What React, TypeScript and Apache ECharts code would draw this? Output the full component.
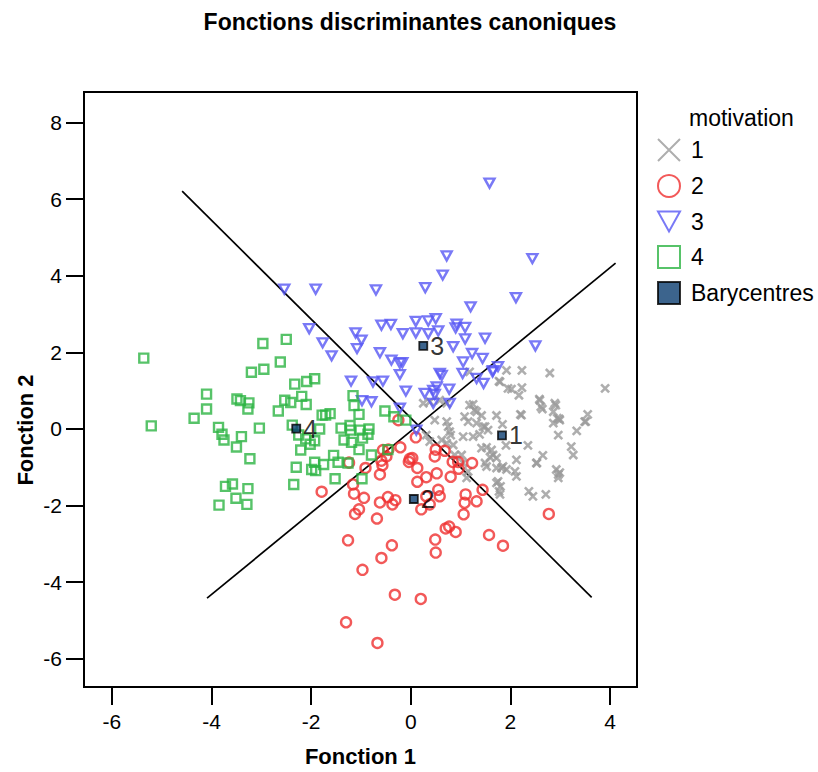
import React, { useEffect, useRef } from "react";
import * as echarts from "echarts";

const xTicks = [-6, -4, -2, 0, 2, 4];
const yTicks = [-6, -4, -2, 0, 2, 4, 6, 8];

const group1: number[][] = [
  [1.92, 1.53], [2.23, 1.53], [2.79, 1.46], [3.90, 1.06], [1.77, 1.25], [1.95, 1.06], [2.02, 1.04],
  [2.17, 0.88], [2.23, 1.08], [2.58, 0.78], [2.61, 0.58], [2.64, 0.52], [2.91, 0.62], [2.86, 0.45],
  [2.94, 0.28], [2.86, 0.15], [2.98, 0.26], [3.55, 0.38], [3.51, 0.19], [3.33, -0.05], [2.96, -0.16],
  [2.20, 0.38], [1.25, 0.64], [1.28, 0.49], [1.42, 0.35], [1.72, 0.35], [1.84, 0.12], [1.49, 0.06],
  [1.55, -0.03], [1.38, -0.14], [1.25, -0.20], [1.91, -0.43], [2.35, -0.43], [1.42, -0.50], [1.52, -0.48],
  [1.62, -0.55], [1.65, -0.68], [1.59, -0.74], [1.49, -0.89], [2.12, -0.81], [2.65, -0.69], [2.53, -0.89],
  [3.22, -0.46], [3.26, -0.68], [1.82, -1.02], [1.92, -1.06], [2.09, -1.11], [2.12, -1.24], [2.92, -1.06],
  [2.96, -1.19], [1.75, -1.37], [1.80, -1.50], [1.77, -1.63], [2.37, -1.63], [2.71, -1.71],
  [1.18, 1.49], [1.79, 1.23], [0.25, 0.67], [0.38, 0.71], [0.58, 0.75], [0.72, 0.67], [0.48, 0.23],
  [0.72, 0.19], [0.75, 0.06], [0.78, -0.07], [0.80, -0.16], [0.31, -0.16], [0.38, -0.33], [1.18, 0.62],
  [1.32, 0.45], [1.08, 0.32], [1.15, 0.19], [1.32, 0.15], [1.45, 0.06], [1.05, -0.20], [0.62, -0.29],
  [0.72, -0.37], [0.85, -0.42], [0.88, -0.68], [1.02, -0.68], [1.05, -0.89], [1.72, -0.76], [1.52, -0.98],
  [1.72, -1.02], [1.85, -0.98], [1.15, -1.11], [1.12, -1.28], [1.72, -1.41], [1.79, -1.71], [2.45, -1.76],
  [2.22, 0.36], [2.52, -0.89], [2.99, -1.14], [2.96, -1.28], [2.59, 0.75], [2.89, 0.67], [2.99, 0.23],
  [3.49, 0.19],
];

const group2: number[][] = [
  [-1.24, -0.88], [-0.91, -1.02], [-1.79, -1.64], [-1.16, -1.45], [-1.14, -1.69], [-0.94, -1.80],
  [-1.04, -2.10], [-1.12, -2.22], [-1.26, -2.91], [-0.97, -3.68], [-1.30, -5.05], [0.10, -0.22],
  [-0.21, -0.48], [-0.56, -0.55], [-0.45, -0.54], [-0.25, 0.23], [-0.49, -0.72], [-0.59, -0.83],
  [-0.57, -0.95], [-0.62, -1.19], [-0.68, -2.34], [-0.62, -1.92], [-0.46, -1.78], [-0.31, -1.86],
  [-0.37, -1.97], [-0.02, -0.78], [0.03, -0.76], [-0.04, -0.86], [0.13, -1.02], [0.31, -1.26],
  [0.13, -1.38], [0.52, -1.16], [0.50, -0.54], [0.48, -0.72], [0.68, -0.57], [0.84, -0.86], [0.95, -0.86],
  [0.96, -1.04], [0.80, -1.25], [1.23, -0.89], [1.44, -1.59], [1.10, -1.71], [1.08, -1.93], [1.32, -1.89],
  [1.06, -2.23], [0.55, -1.59], [0.58, -1.76], [0.31, -1.76], [0.21, -2.10], [0.38, -1.97], [0.70, -2.60],
  [0.77, -2.55], [0.90, -2.69], [0.49, -2.89], [0.50, -3.23], [1.57, -2.77], [1.85, -3.05], [2.77, -2.22],
  [-0.38, -3.04], [-0.59, -3.37], [-0.32, -4.33], [0.20, -4.44], [-0.67, -5.59],
];

const group3: number[][] = [
  [-2.54, 3.65], [-1.91, 3.65], [-2.04, 2.62], [-1.77, 2.25], [-1.59, 1.91], [-1.11, 2.51], [-0.99, 2.32],
  [-1.08, 2.10], [-1.20, 1.25], [-0.98, 0.74], [-0.76, 1.23], [-0.56, 1.25], [-0.22, 1.42], [-0.10, 0.99],
  [-0.79, 0.71], [-0.22, 0.54], [0.28, 0.93], [0.45, 1.01], [0.48, 0.90], [0.52, 1.10], [0.77, 1.04],
  [0.45, 0.67], [0.78, 0.67], [0.11, -0.03], [0.58, 1.45], [0.62, 1.40], [1.04, 1.45], [1.32, 1.32],
  [1.46, 1.19], [1.64, 1.49], [1.58, 6.42], [0.72, 4.52], [2.44, 4.45], [0.64, 4.02], [-0.70, 3.63],
  [0.29, 3.69], [2.11, 3.43], [1.20, 3.19], [-0.59, 2.71], [-0.40, 2.73], [0.10, 2.81], [0.35, 2.82],
  [0.50, 2.88], [0.92, 2.74], [0.90, 2.64], [1.09, 2.65], [-0.16, 2.49], [0.10, 2.51], [0.35, 2.49],
  [0.55, 2.56], [-0.62, 1.99], [-0.39, 1.80], [-0.22, 1.72], [-0.17, 1.73], [0.85, 2.15], [1.09, 2.35],
  [1.49, 2.37], [1.23, 1.97], [1.44, 1.84], [1.05, 1.75], [2.50, 2.17], [1.65, 1.52], [1.75, 1.63],
];

const group4: number[][] = [
  [-5.36, 1.85], [-2.97, 2.23], [-2.50, 2.34], [-2.62, 1.75], [-2.95, 1.56], [-3.20, 1.48], [-2.33, 1.17],
  [-2.09, 1.24], [-1.93, 1.31], [-4.10, 0.91], [-4.10, 0.52], [-4.35, 0.28], [-5.21, 0.08], [-3.49, 0.78],
  [-3.42, 0.74], [-3.25, 0.68], [-3.27, 0.52], [-3.86, 0.04], [-3.79, -0.14], [-3.75, -0.29], [-3.40, -0.20],
  [-3.50, -0.47], [-3.04, 0.02], [-3.23, -0.78], [-2.66, 0.47], [-2.53, 0.75], [-2.41, 0.69], [-2.19, 0.85],
  [-2.10, 0.64], [-2.38, 0.10], [-2.21, -0.55], [-2.25, -0.16], [-2.11, -0.26], [-2.02, -0.40], [-1.93, -0.31],
  [-1.83, 0.00], [-1.78, 0.36], [-1.71, 0.36], [-1.62, 0.40], [-2.30, -1.00], [-1.93, -0.87], [-1.99, -1.06],
  [-1.91, -1.09], [-1.75, -0.93], [-1.55, -0.69], [-1.46, -0.87], [-1.26, -0.89], [-2.35, -1.45], [-1.52, -1.30],
  [-1.40, 0.02], [-1.22, 0.09], [-1.21, -0.03], [-1.34, -0.29], [-1.19, -0.35], [-1.04, -0.54], [-1.02, -0.03],
  [-0.97, -0.24], [-1.16, 0.87], [-1.14, 0.61], [-1.04, 0.38], [-0.98, -1.30], [-3.58, -1.44], [-3.72, -1.50],
  [-3.27, -1.56], [-3.51, -1.81], [-3.29, -1.97], [-3.85, -1.99], [-0.84, 0.00], [-0.86, -0.14], [-0.79, -0.68],
  [-0.46, -0.54], [-0.52, 0.47], [-0.34, 0.32], [-0.10, 0.23],
];

const centroidNames = ["1", "2", "3", "4"];
const centroids: number[][] = [[1.83, -0.17], [0.06, -1.83], [0.25, 2.17], [-2.30, 0.01]];

const boundaryA: number[][] = [[-4.59, 6.21], [3.63, -4.40]];
const boundaryB: number[][] = [[-4.09, -4.42], [4.11, 4.33]];

const FONT = "'Liberation Sans', Arial, sans-serif";
const CROSS = "path://M0,0L10,10M10,0L0,10";
const TRI_DOWN = "path://M0,0L10,0L5,9Z";

export default function App() {
  const ref = useRef<HTMLDivElement>(null);
  useEffect(() => {
    if (!ref.current) return;
    const chart = echarts.init(ref.current, undefined, { renderer: "svg" });
    const hollow = (c: string, w = 2.2) => ({ color: "rgba(255,255,255,0)", borderColor: c, borderWidth: w });
    const axisCommon = {
      type: "value",
      splitLine: { show: false },
      axisLine: { show: true, onZero: false, lineStyle: { color: "#000", width: 2 } },
    };
    chart.setOption({
      animation: false,
      textStyle: { fontFamily: FONT, color: "#000" },
      title: [
        {
          text: "Fonctions discriminantes canoniques",
          left: 405,
          textAlign: "center",
          top: 5,
          textStyle: { fontFamily: FONT, fontSize: 23, fontWeight: "bold", color: "#000" },
        },
        {
          text: "motivation",
          left: 684,
          top: 101,
          textStyle: { fontFamily: FONT, fontSize: 23, fontWeight: "normal", color: "#000" },
        },
      ],
      legend: {
        orient: "vertical",
        left: 652,
        top: 133,
        itemWidth: 22,
        itemHeight: 22,
        itemGap: 12,
        selectedMode: false,
        textStyle: { fontFamily: FONT, fontSize: 23, color: "#000", padding: [0, 0, 0, 6] },
        data: [
          { name: "1", icon: CROSS },
          { name: "2", icon: "circle" },
          { name: "3", icon: TRI_DOWN },
          { name: "4", icon: "rect" },
          { name: "Barycentres", icon: "rect" },
        ],
      },
      graphic: [
        {
          type: "text",
          x: 25,
          y: 430,
          rotation: Math.PI / 2,
          style: {
            text: "Fonction 2",
            font: `bold 22px ${FONT}`,
            fill: "#000",
            textAlign: "center",
            textVerticalAlign: "middle",
          },
        },
      ],
      grid: {
        left: 84,
        right: 181,
        top: 92,
        bottom: 82,
        show: true,
        borderColor: "#000",
        borderWidth: 2,
        backgroundColor: "transparent",
      },
      xAxis: {
        ...axisCommon,
        min: -6.56,
        max: 4.54,
        name: "Fonction 1",
        nameLocation: "middle",
        nameGap: 58,
        nameTextStyle: { fontFamily: FONT, fontSize: 22, fontWeight: "bold", color: "#000" },
        axisTick: { show: true, inside: false, length: 18, customValues: xTicks, lineStyle: { color: "#000", width: 2 } },
        axisLabel: { customValues: xTicks, fontSize: 21, color: "#000", margin: 24, fontFamily: FONT },
      },
      yAxis: {
        ...axisCommon,
        min: -6.74,
        max: 8.8,
        axisTick: { show: true, inside: false, length: 18, customValues: yTicks, lineStyle: { color: "#000", width: 2 } },
        axisLabel: { customValues: yTicks, fontSize: 21, color: "#000", margin: 22, fontFamily: FONT },
      },
      series: [
        {
          name: "boundaryA",
          type: "line",
          data: boundaryA,
          symbol: "none",
          lineStyle: { color: "#000", width: 1.7 },
          z: 1,
          silent: true,
        },
        {
          name: "boundaryB",
          type: "line",
          data: boundaryB,
          symbol: "none",
          lineStyle: { color: "#000", width: 1.7 },
          z: 1,
          silent: true,
        },
        {
          name: "1",
          type: "scatter",
          data: group1,
          symbol: CROSS,
          symbolSize: 8,
          itemStyle: hollow("#9a9a9a", 2.6),
          z: 2,
        },
        {
          name: "2",
          type: "scatter",
          data: group2,
          symbol: "circle",
          symbolSize: 10,
          itemStyle: hollow("#ef3030", 2.4),
          z: 2,
        },
        {
          name: "3",
          type: "scatter",
          data: group3,
          symbol: TRI_DOWN,
          symbolSize: [10, 9],
          itemStyle: hollow("#5858f4", 2.4),
          z: 2,
        },
        {
          name: "4",
          type: "scatter",
          data: group4,
          symbol: "rect",
          symbolSize: 9,
          itemStyle: hollow("#2db443", 2.4),
          z: 2,
        },
        {
          name: "Barycentres",
          type: "scatter",
          data: centroids.map((c, i) => ({ name: centroidNames[i], value: c })),
          symbol: "rect",
          symbolSize: 8,
          itemStyle: { color: "#0b3d70", borderColor: "#000", borderWidth: 1.8 },
          label: {
            show: true,
            position: "right",
            distance: 2,
            formatter: (p: any) => p.name,
            fontSize: 25,
            color: "#000",
            fontFamily: FONT,
          },
          z: 3,
        },
      ],
    });
    return () => chart.dispose();
  }, []);
  return (
    <div
      ref={ref}
      style={{ position: "absolute", left: 0, top: 0, width: 818, height: 772, background: "#fff" }}
    />
  );
}
